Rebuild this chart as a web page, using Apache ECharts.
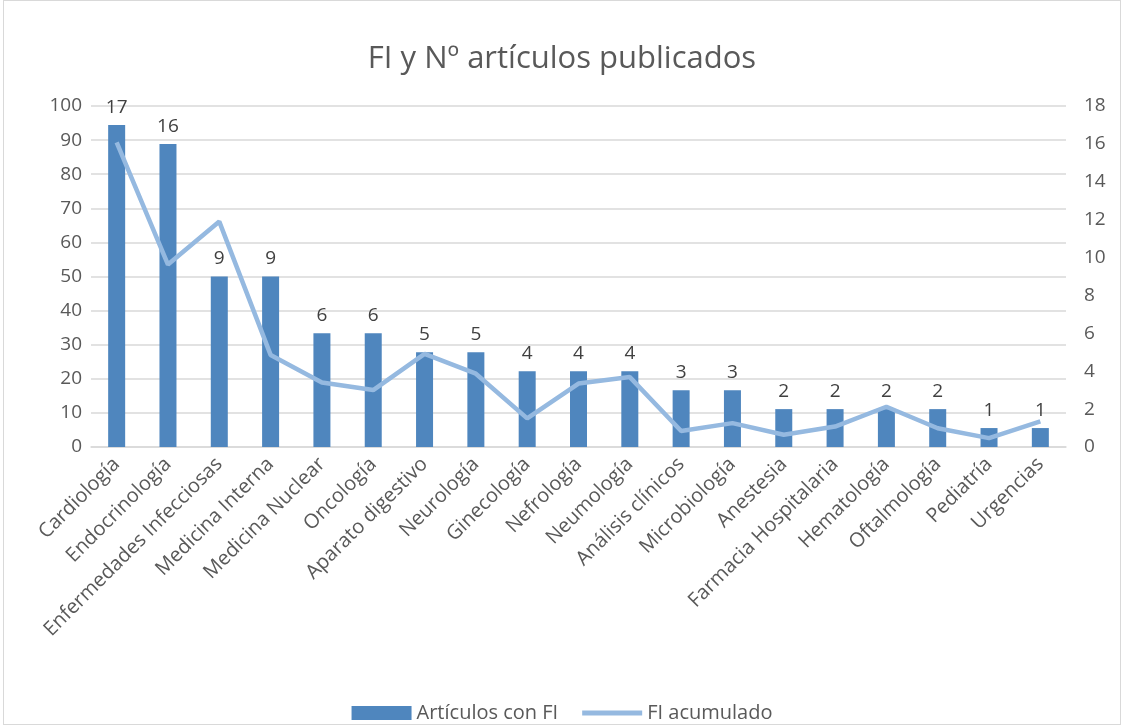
<!DOCTYPE html>
<html>
<head>
<meta charset="utf-8">
<title>FI y Nº artículos publicados</title>
<script src="https://cdn.jsdelivr.net/npm/echarts@6/dist/echarts.min.js"></script>
<style>
  html, body { margin: 0; padding: 0; background: #fff; }
  #chart {
    position: absolute; left: 3px; top: 0;
    width: 1118px; height: 725px;
    border: 1px solid #d9d9d9;
    box-sizing: border-box;
  }
</style>
</head>
<body>
<div id="chart"></div>
<script>
// Servicios
const categories = [
  'Cardiología', 'Endocrinología', 'Enfermedades Infecciosas', 'Medicina Interna',
  'Medicina Nuclear', 'Oncología', 'Aparato digestivo', 'Neurología', 'Ginecología',
  'Nefrología', 'Neumología', 'Análisis clínicos', 'Microbiología', 'Anestesia',
  'Farmacia Hospitalaria', 'Hematología', 'Oftalmología', 'Pediatría', 'Urgencias'
]

// Nº de artículos con FI (eje derecho)
const articulos = [17, 16, 9, 9, 6, 6, 5, 5, 4, 4, 4, 3, 3, 2, 2, 2, 2, 1, 1]

// FI acumulado (eje izquierdo)
const fiAcumulado = [89.3, 53.5, 66.1, 27.0, 18.9, 16.7, 27.3, 21.5, 8.4, 18.6,
  20.5, 4.7, 7.0, 3.6, 6.0, 11.8, 5.5, 2.6, 7.5]

const leftTicks = { min: 0, max: 100, interval: 10 }
const rightTicks = { min: 0, max: 18, interval: 2 }

const font = '"Open Sans", Lato, sans-serif'
const chart = echarts.init(document.getElementById('chart'))

chart.setOption({
  animation: false,
  textStyle: { fontFamily: font },
  title: {
    text: 'FI y Nº artículos publicados',
    left: 'center',
    top: 38,
    textStyle: { fontSize: 31, fontWeight: 'normal', color: '#595959', fontFamily: font }
  },
  legend: {
    top: 697,
    left: 'center',
    itemWidth: 60,
    itemHeight: 14,
    itemGap: 24,
    textStyle: { fontSize: 20, color: '#595959' },
    data: [
      { name: 'Artículos con FI', icon: 'rect' },
      { name: 'FI acumulado', icon: 'path://M0,0 L60,0 L60,5 L0,5 Z' }
    ]
  },
  grid: { left: 87, right: 54, top: 105, bottom: 277 },
  xAxis: {
    type: 'category',
    data: categories,
    axisTick: { show: false },
    axisLine: { lineStyle: { color: '#d9d9d9', width: 1.5 } },
    axisLabel: { rotate: 45, fontSize: 20, color: '#595959', margin: 14, interval: 0 }
  },
  yAxis: [
    {
      type: 'value',
      ...leftTicks,
      axisLine: { show: false },
      axisTick: { show: false },
      splitLine: { lineStyle: { color: '#d9d9d9', width: 1.5 } },
      axisLabel: { fontSize: 19, color: '#595959', margin: 9 }
    },
    {
      type: 'value',
      ...rightTicks,
      axisLine: { show: false },
      axisTick: { show: false },
      splitLine: { show: false },
      axisLabel: { fontSize: 19, color: '#595959', margin: 18 }
    }
  ],
  series: [
    {
      name: 'Artículos con FI',
      type: 'bar',
      yAxisIndex: 1,
      data: articulos,
      barWidth: 17,
      itemStyle: { color: '#4f86be' },
      label: { show: true, position: 'top', distance: 8, fontSize: 19, color: '#404040' }
    },
    {
      name: 'FI acumulado',
      type: 'line',
      yAxisIndex: 0,
      data: fiAcumulado,
      symbol: 'none',
      lineStyle: { width: 4.5, color: '#95b9e0' },
      itemStyle: { color: '#95b9e0' }
    }
  ]
})
</script>
</body>
</html>
